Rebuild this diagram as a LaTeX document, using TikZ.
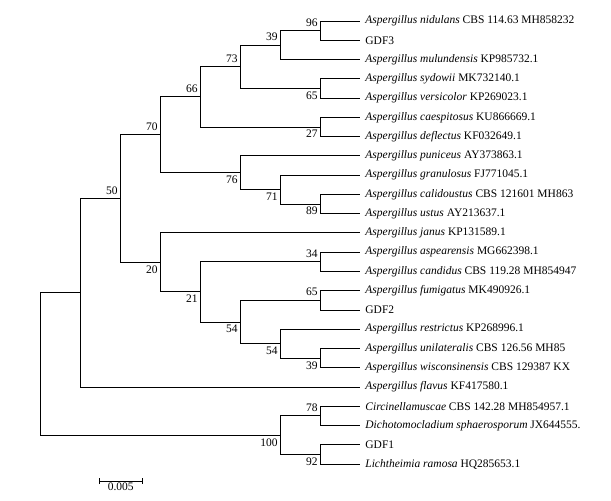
\documentclass[tikz,border=0pt]{standalone}
\usepackage{fontspec}
\setmainfont{Liberation Serif}
\usetikzlibrary{arrows.meta}
\tikzset{
  leaf/.style={anchor=west,inner xsep=5bp,inner ysep=0pt,font=\fontsize{11.5bp}{13bp}\selectfont},
  bsup/.style={anchor=south east,inner sep=0pt,xshift=-2bp,yshift=4bp,font=\fontsize{11.5bp}{13bp}\selectfont},
  bsdown/.style={anchor=north east,inner sep=0pt,xshift=-2bp,yshift=-3bp,font=\fontsize{11.5bp}{13bp}\selectfont}
}
\begin{document}
\begin{tikzpicture}[x=1bp,y=-1bp,line width=0.8bp]
  \useasboundingbox (0,0) rectangle (611,501);
  % taxa
  \foreach \i/\t in {
    1/{\textit{Aspergillus nidulans} CBS 114.63 MH858232},
    2/{GDF3},
    3/{\textit{Aspergillus mulundensis} KP985732.1},
    4/{\textit{Aspergillus sydowii} MK732140.1},
    5/{\textit{Aspergillus versicolor} KP269023.1},
    6/{\textit{Aspergillus caespitosus} KU866669.1},
    7/{\textit{Aspergillus deflectus} KF032649.1},
    8/{\textit{Aspergillus puniceus} AY373863.1},
    9/{\textit{Aspergillus granulosus} FJ771045.1},
    10/{\textit{Aspergillus calidoustus} CBS 121601 MH863},
    11/{\textit{Aspergillus ustus} AY213637.1},
    12/{\textit{Aspergillus janus} KP131589.1},
    13/{\textit{Aspergillus aspearensis} MG662398.1},
    14/{\textit{Aspergillus candidus} CBS 119.28 MH854947},
    15/{\textit{Aspergillus fumigatus} MK490926.1},
    16/{GDF2},
    17/{\textit{Aspergillus restrictus} KP268996.1},
    18/{\textit{Aspergillus unilateralis} CBS 126.56 MH85},
    19/{\textit{Aspergillus wisconsinensis} CBS 129387 KX},
    20/{\textit{Aspergillus flavus} KF417580.1},
    21/{\textit{Circinellamuscae} CBS 142.28 MH854957.1},
    22/{\textit{Dichotomocladium sphaerosporum} JX644555.},
    23/{GDF1},
    24/{\textit{Lichtheimia ramosa} HQ285653.1}}
    \node[leaf] (l\i) at (360,{21+19.26*(\i-1)}) {\t};
  % inner nodes
  \coordinate (n96) at (320,30.6);
  \coordinate (n39a) at (280,45.1);
  \coordinate (n65a) at (320,88.4);
  \coordinate (n73) at (240,66.75);
  \coordinate (n27) at (320,126.95);
  \coordinate (n66) at (200,96.85);
  \coordinate (n89) at (320,203.95);
  \coordinate (n71) at (280,189.5);
  \coordinate (n76) at (240,172.65);
  \coordinate (n70) at (160,134.75);
  \coordinate (n34) at (320,261.75);
  \coordinate (n65b) at (320,300.25);
  \coordinate (n39b) at (320,358.05);
  \coordinate (n54b) at (280,343.6);
  \coordinate (n54a) at (240,321.9);
  \coordinate (n21) at (200,291.8);
  \coordinate (n20) at (160,262.35);
  \coordinate (n50) at (120,198.55);
  \coordinate (nasp) at (80,292.7);
  \coordinate (n78) at (320,415.85);
  \coordinate (n92) at (320,454.35);
  \coordinate (n100) at (280,435.1);
  \coordinate (root) at (40,363.9);
  % branches
  \foreach \a/\b in {n96/l1.west,n96/l2.west,n39a/n96,n39a/l3.west,
      n65a/l4.west,n65a/l5.west,n73/n39a,n73/n65a,n27/l6.west,n27/l7.west,
      n66/n73,n66/n27,n89/l10.west,n89/l11.west,n71/l9.west,n71/n89,
      n76/l8.west,n76/n71,n70/n66,n70/n76,n34/l13.west,n34/l14.west,
      n65b/l15.west,n65b/l16.west,n39b/l18.west,n39b/l19.west,
      n54b/l17.west,n54b/n39b,n54a/n65b,n54a/n54b,n21/n34,n21/n54a,
      n20/l12.west,n20/n21,n50/n70,n50/n20,nasp/n50,nasp/l20.west,
      n78/l21.west,n78/l22.west,n92/l23.west,n92/l24.west,
      n100/n78,n100/n92,root/nasp,root/n100}
    \draw (\a) |- (\b);
  % bootstrap values
  \foreach \n/\v in {n96/96,n39a/39,n73/73,n66/66,n70/70,n50/50,n34/34,n65b/65,n78/78}
    \node[bsup] (b\n) at (\n) {\v};
  \foreach \n/\v in {n65a/65,n27/27,n76/76,n71/71,n89/89,n20/20,n21/21,n54a/54,n54b/54,n39b/39,n100/100,n92/92}
    \node[bsdown] (b\n) at (\n) {\v};
  % scale bar
  \coordinate (s1) at (98.7,481);
  \coordinate (s2) at (142.7,481);
  \draw[{Bar[width=6bp]}-{Bar[width=6bp]}] (s1) -- (s2) node[midway,below=1bp,inner sep=0pt,font=\fontsize{11.5bp}{13bp}\selectfont] (sl) {0.005};
\end{tikzpicture}
\end{document}
